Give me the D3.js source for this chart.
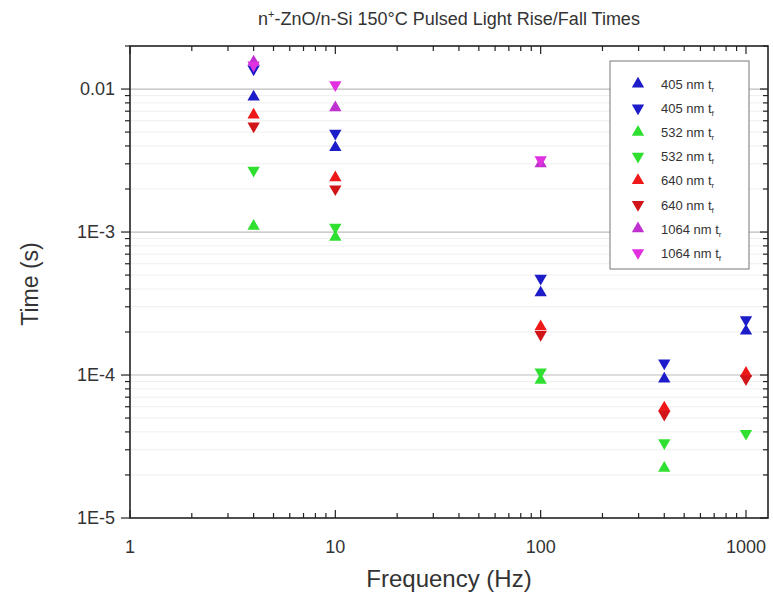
<!DOCTYPE html>
<html><head><meta charset="utf-8">
<script src="https://cdn.jsdelivr.net/npm/d3@7"></script>
<style>
body{margin:0;background:#fff;}
text{font-family:"Liberation Sans",Arial,sans-serif;fill:#333;}
</style></head>
<body><svg id="c" width="773" height="594"></svg>
<script>
// ---- data ----
const seriesNames = ["405 nm t|r","405 nm t|f","532 nm t|r","532 nm t|f","640 nm t|r","640 nm t|f","1064 nm t|r","1064 nm t|f"];
const seriesColors = ["#1c1cc8","#1c1cc8","#30e030","#30e030","#ee1818","#d01418","#c030d0","#e030e0"];
const seriesDir = ["up","down","up","down","up","down","up","down"];
const freq405r = [4,10,100,400,1000];  const val405r = [0.0088,0.0039,0.000376,0.000094,0.000203];
const freq405f = [4,10,100,400,1000];  const val405f = [0.0138,0.0049,0.000475,0.000121,0.000243];
const freq532r = [4,10,100,400];       const val532r = [0.0011,0.00092,0.000092,0.0000223];
const freq532f = [4,10,100,400,1000];  const val532f = [0.0027,0.00108,0.000105,0.0000335,0.000039];
const freq640r = [4,10,100,400,1000];  const val640r = [0.0066,0.0024,0.000218,0.000059,0.000103];
const freq640f = [4,10,100,400,1000];  const val640f = [0.0055,0.0020,0.000192,0.000053,0.000094];
const freq1064r = [4,10,100];          const val1064r = [0.0155,0.0074,0.0030];
const freq1064f = [4,10,100];          const val1064f = [0.0147,0.0107,0.0032];
const xTicks = [1,10,100,1000];
const xTickLabels = ["1","10","100","1000"];
const yTicks = [0.01,0.001,0.0001,0.00001];
const yTickLabels = ["0.01","1E-3","1E-4","1E-5"];
const titleMain = "n", titleSup = "+", titleRest = "-ZnO/n-Si 150°C Pulsed Light Rise/Fall Times";
const xLabel = "Frequency (Hz)", yLabel = "Time (s)";

const allFreq = [freq405r,freq405f,freq532r,freq532f,freq640r,freq640f,freq1064r,freq1064f];
const allVal = [val405r,val405f,val532r,val532f,val640r,val640f,val1064r,val1064f];

// ---- layout ----
const L=130, R=768, T=46, B=518;
const svg = d3.select("#c");
const x = d3.scaleLog().domain([1,1280]).range([L,R]);
const y = d3.scaleLog().domain([1e-5,0.02]).range([B,T]);

const xMinor=[], yMinor=[];
for (let d=1; d<=100; d*=10) for (let k=2;k<=9;k++) xMinor.push(k*d);
for (let d=1e-5; d<=0.01+1e-12; d*=10) for (let k=2;k<=9;k++) if(k*d<=0.02+1e-12) yMinor.push(k*d);

svg.append("g").selectAll("line").data(yMinor).join("line")
  .attr("x1",L).attr("x2",R).attr("y1",d=>y(d)).attr("y2",d=>y(d))
  .attr("stroke","#efefef").attr("stroke-width",1);
svg.append("g").selectAll("line").data(yTicks.filter(d=>d>1e-5)).join("line")
  .attr("x1",L).attr("x2",R).attr("y1",d=>y(d)).attr("y2",d=>y(d))
  .attr("stroke","#bcbcbc").attr("stroke-width",1.2);

const ax = svg.append("g").attr("stroke","#222").attr("stroke-width",1.2);
ax.append("g").selectAll("line").data(xTicks).join("line")
  .attr("x1",d=>x(d)).attr("x2",d=>x(d)).attr("y1",B).attr("y2",B-8);
ax.append("g").selectAll("line").data(xMinor).join("line")
  .attr("x1",d=>x(d)).attr("x2",d=>x(d)).attr("y1",B).attr("y2",B-5);
ax.append("g").selectAll("line").data(xTicks).join("line")
  .attr("x1",d=>x(d)).attr("x2",d=>x(d)).attr("y1",T).attr("y2",T+8);
ax.append("g").selectAll("line").data(xMinor).join("line")
  .attr("x1",d=>x(d)).attr("x2",d=>x(d)).attr("y1",T).attr("y2",T+5);
ax.append("g").selectAll("line").data(yTicks).join("line")
  .attr("x1",L).attr("x2",L-9).attr("y1",d=>y(d)).attr("y2",d=>y(d));
ax.append("g").selectAll("line").data(yMinor).join("line")
  .attr("x1",L).attr("x2",L-5).attr("y1",d=>y(d)).attr("y2",d=>y(d));
ax.append("g").selectAll("line").data(yTicks).join("line")
  .attr("x1",R).attr("x2",R-8).attr("y1",d=>y(d)).attr("y2",d=>y(d));
ax.append("g").selectAll("line").data(yMinor).join("line")
  .attr("x1",R).attr("x2",R-5).attr("y1",d=>y(d)).attr("y2",d=>y(d));
svg.append("rect").attr("x",L).attr("y",T).attr("width",R-L).attr("height",B-T)
  .attr("fill","none").attr("stroke","#222").attr("stroke-width",1.6);

svg.append("g").selectAll("text").data(xTicks).join("text")
  .attr("x",d=>x(d)).attr("y",B+35).attr("text-anchor","middle")
  .attr("font-size",18).text((d,i)=>xTickLabels[i]);
svg.append("g").selectAll("text").data(yTicks).join("text")
  .attr("x",L-15).attr("y",d=>y(d)+6).attr("text-anchor","end")
  .attr("font-size",18).text((d,i)=>yTickLabels[i]);

svg.append("text").attr("x",449).attr("y",587).attr("text-anchor","middle")
  .attr("font-size",24).text(xLabel);
svg.append("text").attr("transform","translate(38,284) rotate(-90)")
  .attr("text-anchor","middle").attr("font-size",23).text(yLabel);

const tt = svg.append("text").attr("x",449).attr("y",25).attr("text-anchor","middle").attr("font-size",18);
tt.append("tspan").text(titleMain);
tt.append("tspan").attr("dy",-7).attr("font-size",11).text(titleSup);
tt.append("tspan").attr("dy",7).text(titleRest);

const sym = d3.symbol().type(d3.symbolTriangle).size(66);
const pts = svg.append("g");
seriesNames.forEach((n,i)=>{
  const data = allFreq[i].map((f,j)=>({f, v: allVal[i][j]}));
  pts.append("g").selectAll("path").data(data).join("path")
    .attr("d",sym)
    .attr("transform",d=>`translate(${x(d.f)},${y(d.v)})`+(seriesDir[i]==="down"?" rotate(180)":""))
    .attr("fill",seriesColors[i]);
});

const lg = svg.append("g");
lg.append("rect").attr("x",610).attr("y",61).attr("width",139).attr("height",208)
  .attr("fill","#fff").attr("stroke","#777").attr("stroke-width",1);
seriesNames.forEach((n,i)=>{
  const yy = 84 + i*24.1;
  lg.append("path").attr("d",sym)
    .attr("transform",`translate(638,${yy})`+(seriesDir[i]==="down"?" rotate(180)":""))
    .attr("fill",seriesColors[i]);
  const parts = n.split("|");
  const t = lg.append("text").attr("x",661).attr("y",yy+5).attr("font-size",13);
  t.append("tspan").text(parts[0]);
  t.append("tspan").attr("dy",3).attr("font-size",8).text(parts[1]);
});
</script></body></html>
